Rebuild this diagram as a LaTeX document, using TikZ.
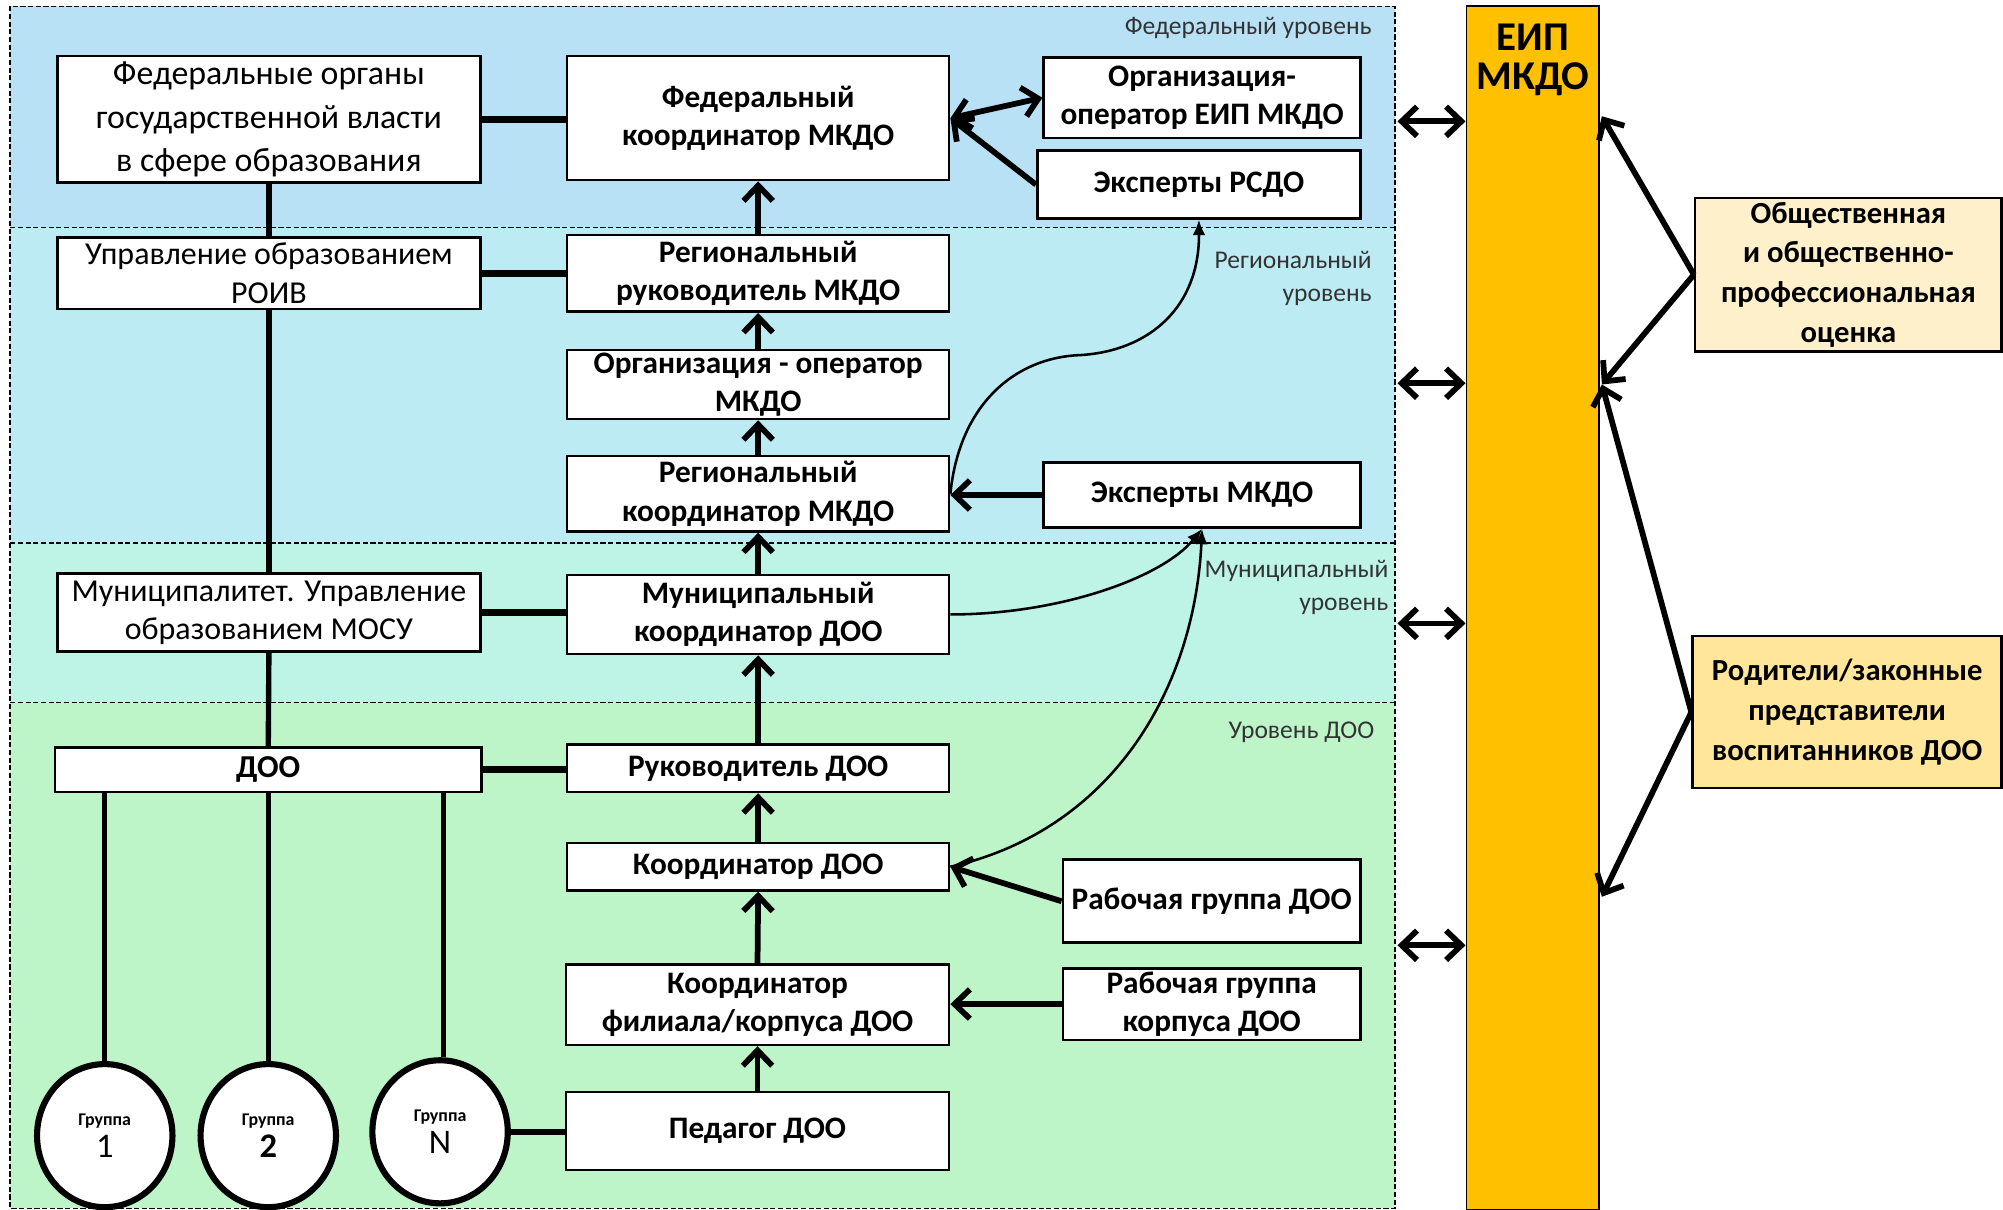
\documentclass[tikz,border=0pt]{standalone}
\usepackage{fontspec}
\setmainfont{Carlito}
\usetikzlibrary{arrows.meta,shapes.geometric}
\definecolor{fedc}{HTML}{B9E1F5}
\definecolor{regc}{HTML}{BCEBF4}
\definecolor{munc}{HTML}{BDF4E5}
\definecolor{dooc}{HTML}{BDF5C9}
\definecolor{eipc}{HTML}{FFC000}
\definecolor{obc}{HTML}{FFF0CC}
\definecolor{roc}{HTML}{FFE69A}
\begin{document}
\begin{tikzpicture}[x=1pt,y=-1pt,
 box/.style={draw, line width=2pt, fill=white, inner sep=0pt, align=center},
 lreg/.style={box, font=\fontsize{25}{30}\selectfont},
 mbold/.style={box, font=\bfseries\fontsize{24.5}{30}\selectfont},
 lvl/.style={font=\fontsize{20}{26}\selectfont, text=black!80, inner sep=0pt, align=right},
 conn/.style={line width=5pt},
 vline/.style={line width=4.2pt},
 arr/.style={line width=4.5pt, -{Straight Barb[length=12pt,width=23pt]}},
 dbl/.style={line width=4.5pt, {Straight Barb[length=12pt,width=23pt]}-{Straight Barb[length=12pt,width=23pt]}},
 thinarr/.style={line width=2pt, -{Latex[length=12pt,width=10pt]}},
 dashln/.style={line width=1.3pt, dash pattern=on 4pt off 2pt},
 grp/.style={ellipse, draw, line width=4.8pt, fill=white, minimum width=106pt, minimum height=112pt, inner sep=0pt, align=center},
 sidebox/.style={draw, line width=2pt, inner sep=0pt, align=center, font=\bfseries\fontsize{24}{31}\selectfont}
]
\useasboundingbox (0,0) rectangle (1568,947);
% level bands
\fill[fedc] (8,5) rectangle (1092,178);
\fill[regc] (8,178) rectangle (1092,425);
\fill[munc] (8,425) rectangle (1092,550);
\fill[dooc] (8,550) rectangle (1092,946);
\draw[dashln] (8,5) rectangle (1092,946);
\draw[dashln] (8,178) -- (1092,178);
\draw[dashln] (8,425) -- (1092,425);
\draw[dashln] (8,550) -- (1092,550);
% level labels
\node[lvl, anchor=east] (lf) at (1074,22) {Федеральный уровень};
\node[lvl, anchor=east] (lr) at (1074,218) {Региональный\\уровень};
\node[lvl, anchor=east] (lm) at (1087,460) {Муниципальный\\уровень};
\node[lvl, anchor=east] (ld) at (1076,573) {Уровень ДОО};
% left column
\node[box, font=\fontsize{26.5}{34}\selectfont, minimum width=331pt, minimum height=99pt] (fo) at (210.5,93.5) {Федеральные органы\\государственной власти\\в сфере образования};
\node[lreg, minimum width=331pt, minimum height=56pt] (roiv) at (210.5,214) {Управление образованием\\РОИВ};
\node[lreg, minimum width=331pt, minimum height=61pt] (mosu) at (210.5,479.5) {Муниципалитет. Управление\\образованием МОСУ};
\node[box, font=\bfseries\fontsize{25}{30}\selectfont, minimum width=334pt, minimum height=35pt] (doo) at (210,602.5) {ДОО};
\node[grp] (g1) at (82,889) {{\bfseries\fontsize{14}{16}\selectfont Группа}\\[4pt]{\fontsize{27}{28}\selectfont 1}};
\node[grp] (g2) at (210,889) {{\bfseries\fontsize{14}{16}\selectfont Группа}\\[4pt]{\bfseries\fontsize{27}{28}\selectfont 2}};
\node[grp] (gN) at (344.5,886) {{\bfseries\fontsize{14}{16}\selectfont Группа}\\[4pt]{\fontsize{27}{28}\selectfont N}};
% middle column
\node[mbold, minimum width=299pt, minimum height=97pt] (fc) at (593.5,92.5) {Федеральный\\координатор МКДО};
\node[mbold, minimum width=299pt, minimum height=60pt] (rr) at (593.5,214) {Региональный\\руководитель МКДО};
\node[mbold, minimum width=299pt, minimum height=54pt] (oo) at (593.5,301) {Организация - оператор\\МКДО};
\node[mbold, minimum width=299pt, minimum height=59pt] (rc) at (593.5,386.5) {Региональный\\координатор МКДО};
\node[mbold, minimum width=299pt, minimum height=62pt] (mc) at (593.5,481) {Муниципальный\\координатор ДОО};
\node[mbold, minimum width=299pt, minimum height=37pt] (rd) at (593.5,601.5) {Руководитель ДОО};
\node[mbold, minimum width=299pt, minimum height=37pt] (cd) at (593.5,678.5) {Координатор ДОО};
\node[mbold, minimum width=300pt, minimum height=63pt] (cf) at (593,786.5) {Координатор\\филиала/корпуса ДОО};
\node[mbold, minimum width=300pt, minimum height=61pt] (pd) at (593,885.5) {Педагог ДОО};
% right column
\node[mbold, minimum width=248pt, minimum height=63pt] (oe) at (941,76.5) {Организация-\\оператор ЕИП МКДО};
\node[mbold, minimum width=253pt, minimum height=53pt] (er) at (938.5,144.5) {Эксперты РСДО};
\node[mbold, minimum width=248pt, minimum height=51pt] (em) at (941,387.5) {Эксперты МКДО};
\node[mbold, minimum width=233pt, minimum height=65pt] (rg) at (948.5,705.5) {Рабочая группа ДОО};
\node[mbold, minimum width=233pt, minimum height=56pt] (rk) at (948.5,786) {Рабочая группа\\корпуса ДОО};
% EIP bar
\node[draw, line width=1.5pt, fill=eipc, minimum width=104pt, minimum height=942pt, inner sep=0pt] (eip) at (1200,476) {};
\node[font=\bfseries\fontsize{32}{30}\selectfont, align=center, inner sep=0pt] (eipt) at (1200,47) {ЕИП\\МКДО};
% side boxes
\node[sidebox, fill=obc, minimum width=240pt, minimum height=120pt] (ob) at (1447,215) {Общественная\\и общественно-\\профессиональная\\оценка};
\node[sidebox, fill=roc, minimum width=242pt, minimum height=119pt] (ro) at (1446,557.5) {Родители/законные\\представители\\воспитанников ДОО};
% left connectors
\draw[vline] (fo.south) -- (roiv.north);
\draw[vline] (roiv.south) -- (mosu.north);
\draw[vline] (mosu.south) -- (doo.north);
\draw[vline] (doo.south -| g1.north) -- (g1.north);
\draw[vline] (doo.south -| g2.north) -- (g2.north);
\draw[vline] (doo.south -| 347,0) -- (gN.north -| 347,0);
\draw[conn] (fo.east) -- (fo.east -| fc.west);
\draw[conn] (roiv.east) -- (rr.west);
\draw[conn] (mosu.east) -- (mosu.east -| mc.west);
\draw[conn] (doo.east) -- (doo.east -| rd.west);
\draw[conn] (gN.east) -- (gN.east -| pd.west);
% upward chain
\draw[arr] (rr.north) -- (fc.south);
\draw[arr] (oo.north) -- (rr.south);
\draw[arr] (rc.north) -- (oo.south);
\draw[arr] (mc.north) -- (rc.south);
\draw[arr] (rd.north) -- (mc.south);
\draw[arr] (cd.north) -- (rd.south);
\draw[arr] (cf.north) -- (cd.south);
\draw[arr] (pd.north) -- (cf.south);
% right connectors
\draw[dbl] (fc.east) -- (oe.west);
\draw[arr] (er.west) -- (fc.east);
\draw[arr] (em.west) -- (em.west -| rc.east);
\draw[arr] (rg.west) -- (cd.east);
\draw[arr] (rk.west) -- (rk.west -| cf.east);
% thin curves
\draw[thinarr] (rc.east) .. controls (751,316) and (795,280) .. (845,278) .. controls (900,275) and (939,240) .. (er.south);
\draw[thinarr] (mc.east) .. controls (830,481) and (910,452) .. (em.south);
\draw[thinarr] (cd.east) .. controls (870,650) and (935,540) .. (em.south);
% EIP double arrows
\coordinate (b1) at (1094,95);
\coordinate (b2) at (1094,300);
\coordinate (b3) at (1094,488);
\coordinate (b4) at (1094,740);
\draw[dbl] (b1) -- (b1 -| eip.west);
\draw[dbl] (b2) -- (b2 -| eip.west);
\draw[dbl] (b3) -- (b3 -| eip.west);
\draw[dbl] (b4) -- (b4 -| eip.west);
% side arrows
\coordinate (t1) at (1254,91);
\coordinate (t2) at (1254,301);
\coordinate (t3) at (1254,702);
\draw[arr] (ob.west) -- (t1);
\draw[arr] (ob.west) -- (t2);
\draw[arr] (ro.west) -- (t2);
\draw[arr] (ro.west) -- (t3);
\end{tikzpicture}
\end{document}
